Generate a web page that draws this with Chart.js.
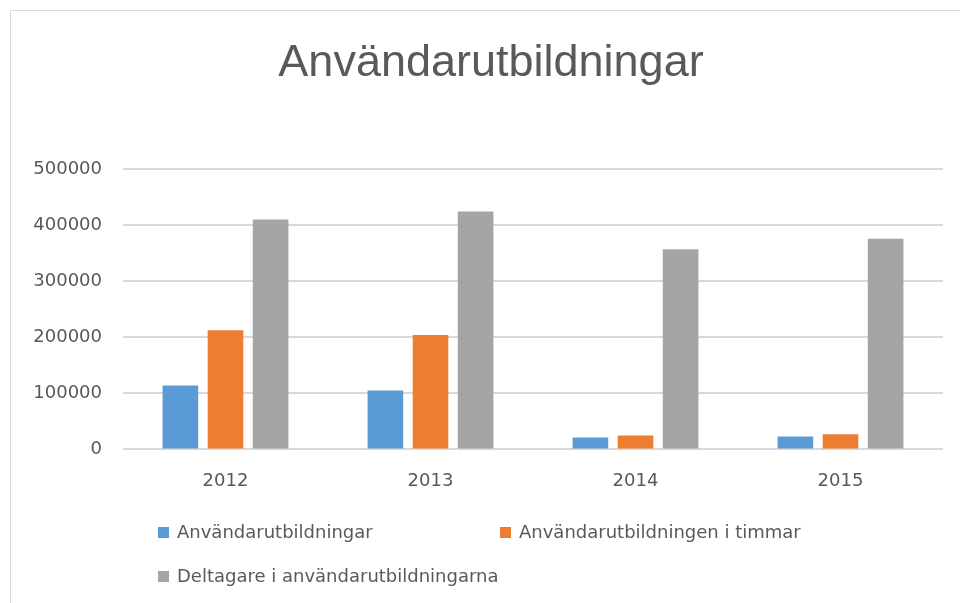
<!DOCTYPE html>
<html>
<head>
<meta charset="utf-8">
<script src="https://cdn.jsdelivr.net/npm/chart.js@4"></script>
<style>
  html, body { margin: 0; padding: 0; background: #fff; overflow: hidden; width: 960px; height: 603px; }
  #ram { position: absolute; left: 10px; top: 10px; width: 962px; height: 600px; border: 1px solid #d9d9d9; }
  #rityta { position: absolute; left: 0; top: 0; width: 960px; height: 592px; }
  #legend { position: absolute; left: 0; top: 0; }
  .post { position: absolute; white-space: nowrap; font: 18px "DejaVu Sans", sans-serif; color: #595959; line-height: 22px; }
  .ruta { display: inline-block; width: 11px; height: 11px; margin-right: 8px; vertical-align: 0px; }
</style>
</head>
<body>
<div id="ram">
  <div id="rityta"><canvas id="diagram"></canvas></div>
  <div id="legend"></div>
</div>
<script>
// År på x-axeln
const ar = ['2012', '2013', '2014', '2015'];

// Serier
const anvandarutbildningar = [114000, 105000, 21000, 23000];
const timmar = [212500, 204000, 25000, 27000];
const deltagare = [410000, 424000, 357000, 375500];

const serieNamn = ['Användarutbildningar', 'Användarutbildningen i timmar', 'Deltagare i användarutbildningarna'];
const serieFarger = ['#5b9bd5', '#ed7d31', '#a5a5a5'];

const textFarg = '#595959';

// titeln ska centreras över hela ramen, inte bara innanför padding
const centreraTitel = {
  id: 'centreraTitel',
  afterLayout(chart) {
    const t = chart.titleBlock;
    if (t) {
      t.left = 0;
      t.right = chart.width;
      t.width = chart.width;
    }
  }
};

document.addEventListener('DOMContentLoaded', () => {
  const diagram = skapaDiagram();
  skapaLegend(diagram);
});

function skapaDiagram() {
  const ctx = document.getElementById('diagram').getContext('2d');
  const serier = [anvandarutbildningar, timmar, deltagare];

  return new Chart(ctx, {
    type: 'bar',
    data: {
      labels: ar,
      datasets: serier.map((data, i) => ({
        label: serieNamn[i],
        data: data,
        backgroundColor: serieFarger[i],
        borderWidth: 0,
        categoryPercentage: 0.66,
        barPercentage: 0.79
      }))
    },
    plugins: [centreraTitel],
    options: {
      responsive: true,
      maintainAspectRatio: false,
      animation: false,
      layout: { padding: { left: 0, right: 28, top: 0, bottom: 90 } },
      plugins: {
        legend: { display: false },
        tooltip: { enabled: false },
        title: {
          display: true,
          text: 'Användarutbildningar',
          color: textFarg,
          font: { family: '"Liberation Sans", sans-serif', size: 45, weight: 'normal' },
          padding: { top: 26, bottom: 78 }
        }
      },
      scales: {
        x: {
          grid: { display: false, drawTicks: false },
          border: { display: false },
          ticks: {
            color: textFarg,
            font: { family: '"DejaVu Sans", sans-serif', size: 18 },
            padding: 21
          }
        },
        y: {
          min: 0,
          max: 500000,
          afterFit: (skala) => { skala.width = 112; },
          grid: { color: '#d9d9d9', lineWidth: 2, drawTicks: false },
          border: { display: false },
          ticks: {
            stepSize: 100000,
            color: textFarg,
            font: { family: '"DejaVu Sans", sans-serif', size: 18 },
            padding: 21,
            callback: (v) => String(v)
          }
        }
      }
    }
  });
}

function skapaLegend(diagram) {
  const legend = document.getElementById('legend');
  diagram.data.datasets.forEach((ds, i) => {
    const kolumn = i % 2;
    const rad = Math.floor(i / 2);
    const post = document.createElement('div');
    post.className = 'post';
    post.style.left = (147 + kolumn * 342) + 'px';
    post.style.top = (510 + rad * 44) + 'px';
    const ruta = document.createElement('span');
    ruta.className = 'ruta';
    ruta.style.background = ds.backgroundColor;
    post.appendChild(ruta);
    post.appendChild(document.createTextNode(ds.label));
    legend.appendChild(post);
  });
}
</script>
</body>
</html>
